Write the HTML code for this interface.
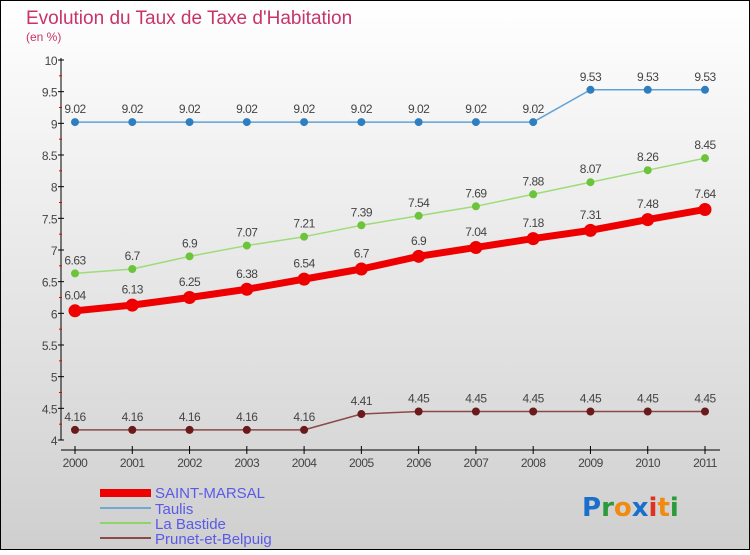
<!DOCTYPE html>
<html><head><meta charset="utf-8"><style>
html,body{margin:0;padding:0;}
body{width:750px;height:550px;overflow:hidden;font-family:"Liberation Sans","DejaVu Sans",sans-serif;}
</style></head><body>
<svg id="chart" width="750" height="550" xmlns="http://www.w3.org/2000/svg">
<defs><linearGradient id="bg" x1="0" y1="0" x2="0" y2="1"><stop offset="0" stop-color="#ffffff"/><stop offset="1" stop-color="#cfcfcf"/></linearGradient></defs>
<rect x="0.5" y="0.5" width="749" height="549" fill="url(#bg)" stroke="#000"/>
<text x="26" y="24" font-size="19" fill="#c8336a">Evolution du Taux de Taxe d'Habitation</text>
<text x="26" y="41" font-size="12" fill="#c8336a">(en %)</text>
<g id="axes"></g><g id="series"></g>
<g>
<rect x="100" y="489" width="51" height="8" fill="#e00"/>
<text x="155" y="498" font-size="15" fill="#5a5ae8">SAINT-MARSAL</text>
<line x1="100" y1="508" x2="151" y2="508" stroke="#6fa8d0" stroke-width="2"/>
<text x="155" y="514" font-size="15" fill="#5a5ae8">Taulis</text>
<line x1="100" y1="523" x2="151" y2="523" stroke="#8fd46a" stroke-width="2"/>
<text x="155" y="529" font-size="15" fill="#5a5ae8">La Bastide</text>
<line x1="100" y1="538" x2="151" y2="538" stroke="#8a4a4a" stroke-width="2"/>
<text x="155" y="544" font-size="15" fill="#5a5ae8">Prunet-et-Belpuig</text>
</g>
<g font-size="26" font-weight="bold" font-family="'DejaVu Sans',sans-serif">
<text x="582" y="516"><tspan fill="#1a6fcc">P</tspan><tspan fill="#2a9a3a">r</tspan><tspan fill="#f08a10">o</tspan><tspan fill="#1a6fcc">x</tspan><tspan fill="#e03020">i</tspan><tspan fill="#f08a10">t</tspan><tspan fill="#2a9a3a">i</tspan></text>
</g>
</svg>
<script>
const years=[2000,2001,2002,2003,2004,2005,2006,2007,2008,2009,2010,2011];
const saintMarsal=[6.04,6.13,6.25,6.38,6.54,6.7,6.9,7.04,7.18,7.31,7.48,7.64];
const taulis=[9.02,9.02,9.02,9.02,9.02,9.02,9.02,9.02,9.02,9.53,9.53,9.53];
const laBastide=[6.63,6.7,6.9,7.07,7.21,7.39,7.54,7.69,7.88,8.07,8.26,8.45];
const prunet=[4.16,4.16,4.16,4.16,4.16,4.41,4.45,4.45,4.45,4.45,4.45,4.45];
const yTicks=["4","4.5","5","5.5","6","6.5","7","7.5","8","8.5","9","9.5","10"];
const NS="http://www.w3.org/2000/svg";
const X=i=>75+i*(630/11);
const Y=v=>440-(v-4)*(380/6);
function mk(p,t,a){const e=document.createElementNS(NS,t);for(const k in a)e.setAttribute(k,a[k]);p.appendChild(e);return e;}
const ax=document.getElementById('axes');
const yl=mk(ax,'line',{x1:61,y1:58,x2:61,y2:440,stroke:'#000'});


const xl=mk(ax,'line',{x1:61,y1:450,x2:720,y2:450,stroke:'#000'});


yTicks.forEach((t,i)=>{const v=parseFloat(t),y=Y(v);
mk(ax,'line',{x1:58,y1:y,x2:64,y2:y,stroke:'#000'});
if(i<yTicks.length-1)mk(ax,'line',{x1:59,y1:Y(v+0.25),x2:62,y2:Y(v+0.25),stroke:'#e00'});
const tx=mk(ax,'text',{x:57,y:y+5,'font-size':12,fill:'#444','text-anchor':'end','letter-spacing':'-0.5'});tx.textContent=t;

});
years.forEach((yr,i)=>{mk(ax,'line',{x1:X(i),y1:446,x2:X(i),y2:454,stroke:'#000'});
const tx=mk(ax,'text',{x:X(i),y:467,'font-size':12,fill:'#444','text-anchor':'middle','letter-spacing':'-0.5'});tx.textContent=yr;

});
const sg=document.getElementById('series');
function series(name,vals,color,w,r,dot){
const g=mk(sg,'g',{});


mk(g,'polyline',{points:vals.map((v,i)=>X(i)+','+Y(v)).join(' '),fill:'none',stroke:color,'stroke-width':w,'stroke-linejoin':'round'});
vals.forEach((v,i)=>{const c=mk(g,'circle',{cx:X(i),cy:Y(v),r:r,fill:dot});


const t=mk(g,'text',{x:X(i),y:Y(v)-r-5,'font-size':12,fill:'#444','text-anchor':'middle','letter-spacing':'-0.5'});t.textContent=String(v);

});}
series('taulis-series',taulis,'#5fa3d6',1.5,4,'#2f7fc0');
series('la-bastide-series',laBastide,'#9ddc78',1.5,4,'#6cc43a');
series('prunet-series',prunet,'#8a4a4a',1.5,4,'#6a1a1a');
series('saint-marsal-series',saintMarsal,'#ee0000',7,6.5,'#ee0000');
</script>
</body></html>
